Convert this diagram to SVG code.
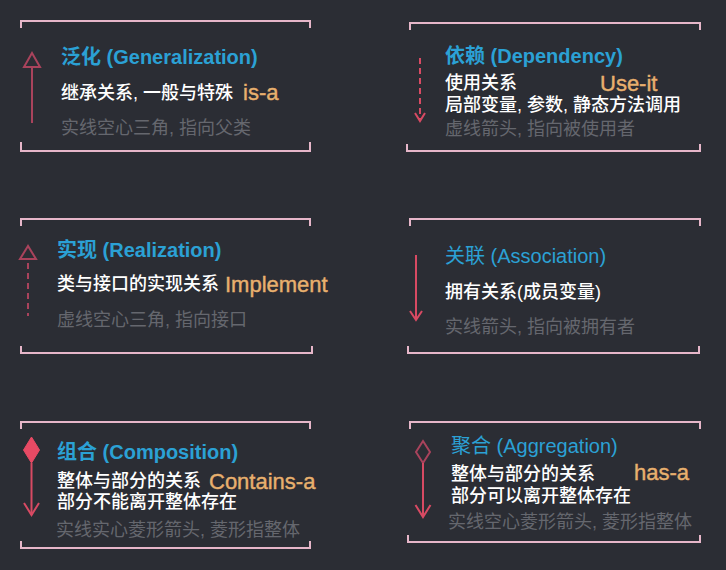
<svg xmlns="http://www.w3.org/2000/svg" width="726" height="570" viewBox="0 0 726 570">
<defs>
<style>
.bg{fill:#2b2d34}
.br{fill:none;stroke:#e6b6c9;stroke-width:2}
.t{font-family:"Liberation Sans","Noto Sans CJK SC",sans-serif;font-size:20px;fill:#2ba1d5}
.tb{font-weight:bold}
.w{font-family:"Liberation Sans","Noto Sans CJK SC",sans-serif;font-size:18px;fill:#ffffff;font-weight:500}
.g{font-family:"Liberation Sans","Noto Sans CJK SC",sans-serif;font-size:18px;fill:#65676e}
.o{font-family:"Liberation Sans",sans-serif;font-size:22px;fill:#e8b06e;stroke:#e8b06e;stroke-width:0.4}
.a1{fill:none;stroke:#a9435c;stroke-width:2}
.a2{fill:none;stroke:#d84a63;stroke-width:2}
.d{stroke-dasharray:6 4}
</style>
</defs>
<rect class="bg" x="0" y="0" width="726" height="570"/>

<g id="generalization">
<path class="br" d="M21 28V21H310V28M21 142V151H310V142"/>
<text class="t tb" x="61" y="64">泛化 (Generalization)</text>
<text class="w" x="61" y="99">继承关系, 一般与特殊</text>
<text class="o" x="243" y="100">is-a</text>
<text class="g" x="61" y="134">实线空心三角, 指向父类</text>
</g>

<g id="dependency">
<path class="br" d="M410 30V23H700V30M407 144V151H700V144"/>
<text class="t tb" x="445" y="63">依赖 (Dependency)</text>
<text class="w" x="445" y="89">使用关系</text>
<text class="o" x="600" y="91">Use-it</text>
<text class="w" x="445" y="111">局部变量, 参数, 静态方法调用</text>
<text class="g" x="445" y="135">虚线箭头, 指向被使用者</text>
</g>

<g id="realization">
<path class="br" d="M21 226V219H310V226M21 346V353H312V346"/>
<text class="t tb" x="57" y="257">实现 (Realization)</text>
<text class="w" x="57" y="290">类与接口的实现关系</text>
<text class="o" x="225" y="292">Implement</text>
<text class="g" x="57" y="326">虚线空心三角, 指向接口</text>
</g>

<g id="association">
<path class="br" d="M410 226V219H700V226M408 346V353H699V346"/>
<text class="t" x="445" y="263">关联 (Association)</text>
<text class="w" x="445" y="298">拥有关系(成员变量)</text>
<text class="g" x="445" y="333">实线箭头, 指向被拥有者</text>
</g>

<g id="composition">
<path class="br" d="M21 429V422H310V429M21 541V548H310V541"/>
<text class="t tb" x="57" y="459">组合 (Composition)</text>
<text class="w" x="57" y="487">整体与部分的关系</text>
<text class="o" x="209" y="489">Contains-a</text>
<text class="w" x="57" y="508">部分不能离开整体存在</text>
<text class="g" x="56" y="536">实线实心菱形箭头, 菱形指整体</text>
</g>

<g id="aggregation">
<path class="br" d="M410 429V422H700V429M408 535V542H700V535"/>
<text class="t" x="451" y="453">聚合 (Aggregation)</text>
<text class="w" x="451" y="480">整体与部分的关系</text>
<text class="o" x="634" y="480">has-a</text>
<text class="w" x="451" y="502">部分可以离开整体存在</text>
<text class="g" x="448" y="528">实线空心菱形箭头, 菱形指整体</text>
</g>

<g id="connectors">
<line class="a1" x1="32" y1="123" x2="32" y2="67"/>
<polygon class="a1" points="32,53 24,67 40,67"/>

<line class="a2 d" x1="420" y1="58" x2="420" y2="120"/>
<polyline class="a2" points="415,113 420,121 425,113"/>

<polygon class="a1" points="28,246 20,259 36,259"/>
<line class="a1 d" x1="28" y1="263" x2="28" y2="316"/>

<line class="a2" x1="416" y1="255" x2="416" y2="320"/>
<polyline class="a2" points="410,311 416,320 422,311"/>

<polygon points="31.5,437 39.5,450 31.5,463 23.5,450" fill="#e84a64" stroke="#e84a64" stroke-width="1"/>
<line class="a2" x1="31.5" y1="463" x2="31.5" y2="515"/>
<polyline class="a2" points="24,503 31.5,515 39,503"/>

<polygon class="a1" points="423,441 430,452 423,463 416,452"/>
<line class="a2" x1="423" y1="463" x2="423" y2="517"/>
<polyline class="a2" points="415.5,505 423,517 430.5,505"/>
</g>
</svg>
